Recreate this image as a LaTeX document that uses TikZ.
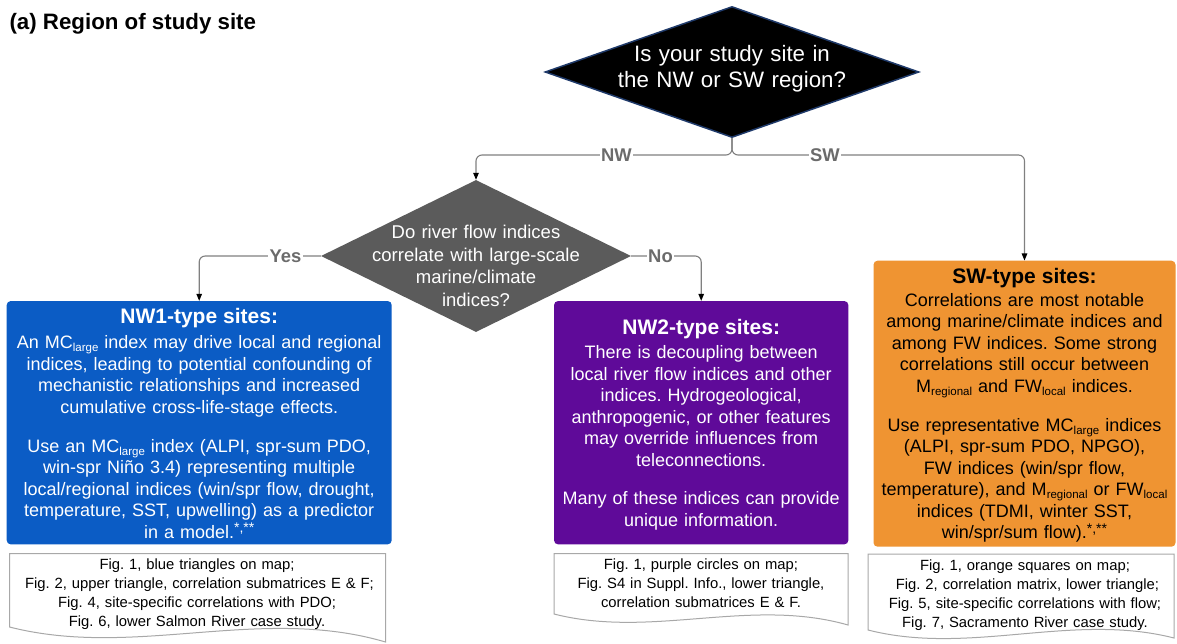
\documentclass[tikz,border=0pt]{standalone}
\usepackage{fontspec}
\setmainfont{Liberation Sans}
\usetikzlibrary{arrows.meta,shapes.geometric}
\definecolor{nwblue}{HTML}{0B5CC5}
\definecolor{nwpurple}{HTML}{5F0A99}
\definecolor{sworange}{HTML}{EF9432}
\definecolor{dgray}{HTML}{5B5B5B}
\definecolor{navy}{HTML}{1F3A6A}
\definecolor{conncol}{HTML}{808080}
\definecolor{lblcol}{HTML}{6B6B6B}
\definecolor{doccol}{HTML}{A8A8A8}
\newcommand\myBody{\fontsize{18}{21.5}\selectfont}
\newcommand\myHead{\fontsize{21}{21.5}\selectfont\bfseries}
\newcommand\myDoc{\fontsize{14.8}{19}\selectfont}
\newcommand\lsub[1]{\raisebox{-0.3ex}{\fontsize{11.5}{12}\selectfont #1}}
\newcommand\lsup[1]{\raisebox{0.55ex}{\fontsize{14}{14}\selectfont #1}}
\begin{document}
\frenchspacing
\begin{tikzpicture}[x=1pt,y=-1pt,
  conn/.style={draw=conncol,line width=1.1pt,rounded corners=6pt,-{Triangle[length=7pt,width=5.5pt,color=black]}},
  lbl/.style={font=\fontsize{18.4}{20}\selectfont\bfseries,text=lblcol,fill=white,inner xsep=1.5pt,inner ysep=1pt},
  sitebox/.style={rectangle,rounded corners=4pt,inner sep=0pt},
  sitetext/.style={anchor=north,text width=400pt,align=center,inner sep=0pt,font=\myBody},
  docline/.style={draw=doccol,line width=1pt,fill=white},
  doctext/.style={anchor=north,text width=400pt,align=center,inner sep=0pt,font=\myDoc},
  qdiamond/.style={diamond,inner sep=0pt}
]
\useasboundingbox (0,0) rectangle (1177,644);
\fill[white] (0,0) rectangle (1177,644);

% title
\node[anchor=base west,inner sep=0pt,font=\fontsize{22.3}{24}\selectfont\bfseries] (title) at (9.3,29.3) {(a) Region of study site};

% decision diamonds
\node[qdiamond,fill=black,draw=navy,line width=1.5pt,minimum width=374pt,minimum height=131pt] (q1) at (732,72) {};
\node[anchor=north,text width=300pt,align=center,inner sep=0pt,text=white,font=\fontsize{22.3}{26}\selectfont] (q1t) at (732,45) {Is your study site in\\the NW or SW region?};

\node[qdiamond,fill=dgray,minimum width=310pt,minimum height=152pt] (q2) at (476,256) {};
\node[anchor=north,text width=300pt,align=center,inner sep=0pt,text=white,font=\fontsize{18.5}{22.7}\selectfont] (q2t) at (476,224.8) {Do river flow indices\\correlate with large-scale\\marine/climate\\indices?};

% site boxes
\node[sitebox,fill=nwblue,minimum width=385pt,minimum height=243.3pt] (nw1) at (199.2,422.7) {};
\node[sitebox,fill=nwpurple,minimum width=294.3pt,minimum height=243.3pt] (nw2) at (701.2,422.7) {};
\node[sitebox,fill=sworange,minimum width=302pt,minimum height=286pt] (sw) at (1024.5,403.7) {};

\node[sitetext,text=white] (nw1t) at (199.2,308.3) {{\myHead NW1-type sites:}\\[3.5pt]
An MC\lsub{large} index may drive local and regional\\
indices, leading to potential confounding of\\
mechanistic relationships and increased\\
cumulative cross-life-stage effects.\\[17.5pt]
Use an MC\lsub{large} index (ALPI, spr-sum PDO,\\
win-spr Niño 3.4) representing multiple\\
local/regional indices (win/spr flow, drought,\\
temperature, SST, upwelling) as a predictor\\
in a model.\lsup{*,**}};

\node[sitetext,text=white] (nw2t) at (701.2,319) {{\myHead NW2-type sites:}\\[2.8pt]
There is decoupling between\\
local river flow indices and other\\
indices. Hydrogeological,\\
anthropogenic, or other features\\
may override influences from\\
teleconnections.\\[17pt]
Many of these indices can provide\\
unique information.};

\node[sitetext,text=black] (swt) at (1024.5,268.3) {{\myHead SW-type sites:}\\[1.2pt]
Correlations are most notable\\
among marine/climate indices and\\
among FW indices. Some strong\\
correlations still occur between\\
M\lsub{regional} and FW\lsub{local} indices.\\[17.5pt]
Use representative MC\lsub{large} indices\\
(ALPI, spr-sum PDO, NPGO),\\
FW indices (win/spr flow,\\
temperature), and M\lsub{regional} or FW\lsub{local}\\
indices (TDMI, winter SST,\\
win/spr/sum flow).\lsup{*,**}};

% connectors
\coordinate (fork) at (732,155);
\draw[conn] (q1.south) -- (fork) -| (q2.north);
\draw[conn] (q1.south) -- (fork) -| (sw.north);
\draw[conn] (q2.west) -| (nw1.north);
\draw[conn] (q2.east) -| (nw2.north);

\node[lbl] (lnw) at (616.5,155) {NW};
\node[lbl] (lsw) at (825,155) {SW};
\node[lbl] (lyes) at (285.5,256) {Yes};
\node[lbl] (lno) at (660.5,256) {No};

% document shapes
\draw[docline] (9.5,553.5) -- (385.5,553.5) -- (385.5,642) .. controls (260,605) and (135,659) .. (9.5,627) -- cycle;
\node[doctext] (doc1) at (197,558.7) {Fig. 1, blue triangles on map;\\
\ Fig. 2, upper triangle, correlation submatrices E \& F;\\
Fig. 4, site-specific correlations with PDO;\\
Fig. 6, lower Salmon River case study.};

\draw[docline] (554,553.5) -- (848,553.5) -- (848,625) .. controls (750,597) and (652,639) .. (554,614) -- cycle;
\node[doctext] (doc2) at (701,558.7) {Fig. 1, purple circles on map;\\
Fig. S4 in Suppl. Info., lower triangle,\\
correlation submatrices E \& F.};

\draw[docline] (868,554) -- (1174,554) -- (1174,638) .. controls (1072,612) and (970,656) .. (868,630) -- cycle;
\node[doctext] (doc3) at (1025,559.4) {Fig. 1, orange squares on map;\\
\ Fig. 2, correlation matrix, lower triangle;\\
Fig. 5, site-specific correlations with flow;\\
Fig. 7, Sacramento River case study.};
\end{tikzpicture}
\end{document}
